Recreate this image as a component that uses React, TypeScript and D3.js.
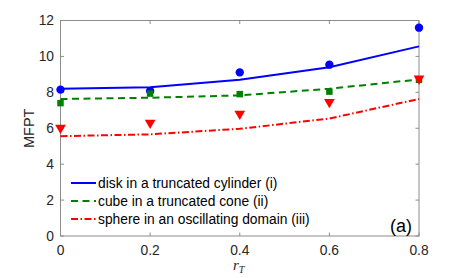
import * as d3 from "d3";
import { useEffect, useRef } from "react";

const rT = [0, 0.2, 0.4, 0.6, 0.8];

// lines (theory)
const diskLine = [8.2, 8.28, 8.7, 9.4, 10.56];
const cubeLine = [7.63, 7.7, 7.83, 8.2, 8.72];
const sphereLine = [5.56, 5.66, 5.97, 6.54, 7.63];

// markers (simulation)
const diskPts = [8.15, 8.07, 9.11, 9.54, 11.6];
const cubePts = [7.4, 7.93, 7.9, 8.04, 8.7];
const spherePts = [6.02, 6.3, 6.8, 7.46, 8.76];

const xTicks = [0, 0.2, 0.4, 0.6, 0.8];
const yTicks = [0, 2, 4, 6, 8, 10, 12];

const legendLabels = [
  "disk in a truncated cylinder (i)",
  "cube in a truncated cone (ii)",
  "sphere in an oscillating domain (iii)",
];

const W = 463;
const H = 278;
const left = 60.5;
const right = 419;
const top = 20.5;
const bottom = 236;

const App = () => {
  const ref = useRef<SVGSVGElement>(null);

  useEffect(() => {
    const svg = d3.select(ref.current);
    svg.selectAll("*").remove();

    const x = d3.scaleLinear().domain([0, 0.8]).range([left, right]);
    const y = d3.scaleLinear().domain([0, 12]).range([bottom, top]);

    const font = "'Liberation Sans', Arial, sans-serif";
    const axisColor = "#8c8c8c";
    const textColor = "#262626";

    // box
    svg
      .append("rect")
      .attr("x", left)
      .attr("y", top)
      .attr("width", right - left)
      .attr("height", bottom - top)
      .attr("fill", "white")
      .attr("stroke", axisColor)
      .attr("stroke-width", 1);

    const g = svg.append("g");

    // ticks, inward on all sides
    xTicks.forEach((t) => {
      g.append("line")
        .attr("x1", x(t)).attr("x2", x(t))
        .attr("y1", bottom).attr("y2", bottom - 3.5)
        .attr("stroke", axisColor);
      g.append("line")
        .attr("x1", x(t)).attr("x2", x(t))
        .attr("y1", top).attr("y2", top + 3.5)
        .attr("stroke", axisColor);
      g.append("text")
        .attr("x", x(t))
        .attr("y", 255)
        .attr("text-anchor", "middle")
        .attr("font-family", font)
        .attr("font-size", 13.8)
        .attr("fill", textColor)
        .text(t === 0 ? "0" : String(t));
    });
    yTicks.forEach((t) => {
      g.append("line")
        .attr("x1", left).attr("x2", left + 3.5)
        .attr("y1", y(t)).attr("y2", y(t))
        .attr("stroke", axisColor);
      g.append("line")
        .attr("x1", right).attr("x2", right - 3.5)
        .attr("y1", y(t)).attr("y2", y(t))
        .attr("stroke", axisColor);
      g.append("text")
        .attr("x", 54)
        .attr("y", y(t))
        .attr("dy", "0.36em")
        .attr("text-anchor", "end")
        .attr("font-family", font)
        .attr("font-size", 13.8)
        .attr("fill", textColor)
        .text(String(t));
    });

    // axis labels
    const xl = svg
      .append("text")
      .attr("x", 233)
      .attr("y", 270)
      .attr("font-family", "'Liberation Serif', 'DejaVu Serif', serif")
      .attr("font-style", "italic")
      .attr("font-size", 15)
      .attr("fill", textColor);
    xl.append("tspan").text("r");
    xl.append("tspan").attr("font-size", 10).attr("dy", 3).text("T");

    svg
      .append("text")
      .attr("transform", `translate(34,${(top + bottom) / 2}) rotate(-90)`)
      .attr("text-anchor", "middle")
      .attr("font-family", font)
      .attr("font-size", 14.5)
      .attr("fill", textColor)
      .text("MFPT");

    const series = [
      { line: diskLine, pts: diskPts, color: "#0000ff", dash: null, marker: "circle" },
      { line: cubeLine, pts: cubePts, color: "#008000", dash: "7,4.5", marker: "square" },
      { line: sphereLine, pts: spherePts, color: "#ff0000", dash: "7,2.5,1.5,2.5", marker: "triangle" },
    ];

    const lineGen = d3
      .line<number>()
      .x((_, i) => x(rT[i]))
      .y((d) => y(d));

    series.forEach((s) => {
      svg
        .append("path")
        .datum(s.line)
        .attr("d", lineGen)
        .attr("fill", "none")
        .attr("stroke", s.color)
        .attr("stroke-width", 2)
        .attr("stroke-dasharray", s.dash);
    });

    const symbolFor = (m: string) => {
      if (m === "circle") return d3.symbol().type(d3.symbolCircle).size(55)();
      if (m === "square") return d3.symbol().type(d3.symbolSquare).size(42)();
      return d3.symbol().type(d3.symbolTriangle).size(50)();
    };

    series.forEach((s) => {
      svg
        .append("g")
        .selectAll("path")
        .data(s.pts)
        .enter()
        .append("path")
        .attr("d", symbolFor(s.marker))
        .attr("transform", (d, i) =>
          `translate(${x(rT[i])},${y(d)})` + (s.marker === "triangle" ? " rotate(180)" : "")
        )
        .attr("fill", s.color);
    });

    // legend
    const leg = svg.append("g");
    series.forEach((s, i) => {
      const ly = 183 + i * 18;
      leg
        .append("line")
        .attr("x1", 71).attr("x2", 96)
        .attr("y1", ly).attr("y2", ly)
        .attr("stroke", s.color)
        .attr("stroke-width", 2)
        .attr("stroke-dasharray", s.dash);
      leg
        .append("text")
        .attr("x", 98)
        .attr("y", ly)
        .attr("dy", "0.35em")
        .attr("font-family", font)
        .attr("font-size", 13.8)
        .attr("fill", "#000")
        .text(legendLabels[i]);
    });

    svg
      .append("text")
      .attr("x", 412)
      .attr("y", 232)
      .attr("text-anchor", "end")
      .attr("font-family", font)
      .attr("font-size", 18)
      .attr("fill", "#000")
      .text("(a)");
  }, []);

  return (
    <svg
      ref={ref}
      width={W}
      height={H}
      style={{ position: "absolute", left: 0, top: 0, background: "white" }}
    />
  );
};

export default App;
